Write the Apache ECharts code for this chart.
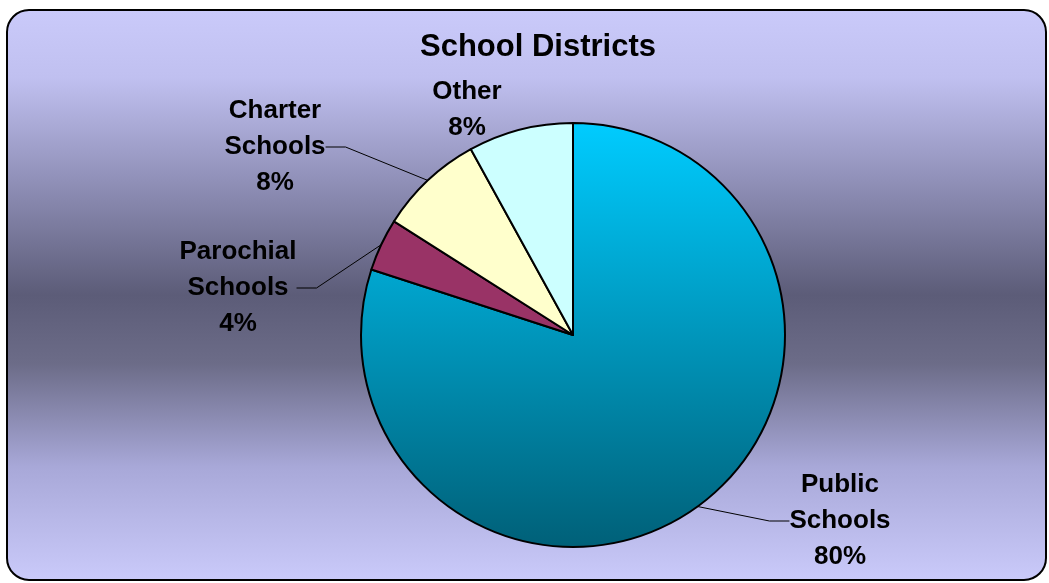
<!DOCTYPE html>
<html><head><meta charset="utf-8">
<script src="https://cdn.jsdelivr.net/npm/echarts@6/dist/echarts.min.js"></script>
<style>html,body{margin:0;padding:0;background:#fff}#c{width:1049px;height:583px}</style>
</head><body><div id="c"></div>
<script>
const categories = ['Public Schools', 'Parochial Schools', 'Charter Schools', 'Other'];
const labelTexts = ['Public\nSchools', 'Parochial\nSchools', 'Charter\nSchools', 'Other'];
const values = [80, 4, 8, 8];
const title = 'School Districts';

const colors = [
  {type:'linear',x:0,y:0,x2:0,y2:1,colorStops:[{offset:0,color:'#00ccff'},{offset:1,color:'#006078'}]},
  '#993366', '#ffffcc', '#ccffff'
];
const labelPos = [[840,521],[238,288],[275,147],[467,110]];

const chart = echarts.init(document.getElementById('c'), null, {renderer:'canvas'});
chart.setOption({
  backgroundColor: '#ffffff',
  graphic: [{
    type:'rect', z:-10, silent:true,
    shape:{x:7,y:10,width:1039,height:570,r:22},
    style:{
      fill:{type:'linear',x:0,y:0,x2:0,y2:1,colorStops:[
        {offset:0,color:'#cacafa'},{offset:0.12,color:'#c0c0f0'},
        {offset:0.3,color:'#9090b8'},{offset:0.5,color:'#5c5c78'},
        {offset:0.62,color:'#6c6c88'},{offset:0.8,color:'#a8a8d8'},
        {offset:1,color:'#cacafa'}]},
      stroke:'#000', lineWidth:2
    }
  }],
  title: {
    text: title, left: 533, top: 27, textAlign:'center',
    textStyle:{fontFamily:'Liberation Sans, Arial', fontWeight:'bold', fontSize:31, color:'#000'}
  },
  series: [{
    type:'pie',
    center:[573,335],
    radius:[0,212],
    startAngle:90,
    clockwise:true,
    animation:false,
    data: categories.map((n,i)=>({
      name:n, value:values[i],
      itemStyle:{color:colors[i]},
      labelLine:{show: i!==3}
    })),
    itemStyle:{borderColor:'#000', borderWidth:2},
    label:{
      show:true, position:'outside',
      formatter: p => labelTexts[p.dataIndex] + '\n' + Math.round(p.percent) + '%',
      fontFamily:'Liberation Sans, Arial', fontWeight:'bold', fontSize:26,
      lineHeight:36, color:'#000', align:'center'
    },
    labelLine:{show:true, length:20, length2:20, lineStyle:{color:'#000', width:1}},
    labelLayout: p => ({
      x: labelPos[p.dataIndex][0], y: labelPos[p.dataIndex][1],
      align:'center', verticalAlign:'middle'
    })
  }]
});
</script></body></html>
